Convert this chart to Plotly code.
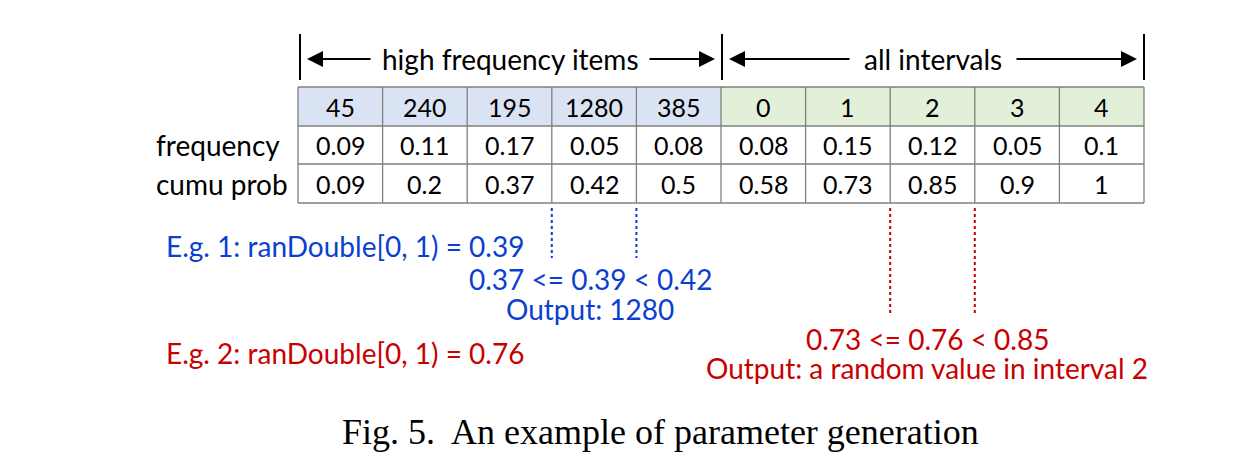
import plotly.graph_objects as go

# ---- data ----
items = ["45", "240", "195", "1280", "385"]
intervals = ["0", "1", "2", "3", "4"]
frequency = ["0.09", "0.11", "0.17", "0.05", "0.08", "0.08", "0.15", "0.12", "0.05", "0.1"]
cumu_prob = ["0.09", "0.2", "0.37", "0.42", "0.5", "0.58", "0.73", "0.85", "0.9", "1"]
row_labels = ["frequency", "cumu prob"]
group_labels = ["high frequency items", "all intervals"]
example1 = ["E.g. 1: ranDouble[0, 1) = 0.39", "0.37 <= 0.39 < 0.42", "Output: 1280"]
example2 = ["E.g. 2: ranDouble[0, 1) = 0.76", "0.73 <= 0.76 < 0.85", "Output: a random value in interval 2"]
caption = "Fig. 5.  An example of parameter generation"

# ---- layout geometry ----
W, H = 1235, 473
OFF = 8  # page body margin compensation
x0, x1 = 298, 1144
ncol = len(items) + len(intervals)
cw = (x1 - x0) / ncol
rows_y = [87, 126, 164, 203]
FONT = "Lato, Carlito, Calibri, sans-serif"
FS_CELL = 25
FS_TXT = 28
BLUE = "#0B3FCF"
RED = "#C80000"
BORDER = "#7F7F7F"

fig = go.Figure()
shapes = []
ann = []

# header fills
for i in range(ncol):
    fill = "#DAE3F3" if i < len(items) else "#E2F0D9"
    shapes.append(dict(type="rect", x0=x0 + i * cw, x1=x0 + (i + 1) * cw, y0=rows_y[0], y1=rows_y[1],
                       fillcolor=fill, line=dict(width=0), layer="below"))
# grid lines
for y in rows_y:
    shapes.append(dict(type="line", x0=x0, x1=x1, y0=y, y1=y, line=dict(color=BORDER, width=1.3)))
for i in range(ncol + 1):
    xx = x0 + i * cw
    shapes.append(dict(type="line", x0=xx, x1=xx, y0=rows_y[0], y1=rows_y[-1], line=dict(color=BORDER, width=1.3)))

headers = items + intervals
for r, row in enumerate([headers, frequency, cumu_prob]):
    yc = (rows_y[r] + rows_y[r + 1]) / 2
    for i, v in enumerate(row):
        ann.append(dict(x=x0 + (i + 0.5) * cw, y=yc, text=v, showarrow=False,
                        font=dict(family=FONT, size=FS_CELL, color="#000"), xanchor="center", yanchor="middle"))
for r, lab in enumerate(row_labels):
    yc = (rows_y[r + 1] + rows_y[r + 2]) / 2
    ann.append(dict(x=154, y=yc, text=lab, showarrow=False, font=dict(family=FONT, size=FS_TXT, color="#000"),
                    xanchor="left", yanchor="middle"))

# brackets
bars = [x0 + 2, x0 + len(items) * cw + 1, x1]
for bx in bars:
    shapes.append(dict(type="line", x0=bx, x1=bx, y0=34, y1=80, line=dict(color="#000", width=2)))
ya = 59
spans = [(bars[0], bars[1], 372, 648), (bars[1], bars[2], 851, 1015)]
for (a, b, t0, t1), lab in zip(spans, group_labels):
    ann.append(dict(x=(t0 + t1) / 2, y=ya, text=lab, showarrow=False,
                    font=dict(family=FONT, size=FS_TXT, color="#000"), xanchor="center", yanchor="middle"))
    ann.append(dict(x=a + 7, y=ya, ax=t0, ay=ya, xref="x", yref="y", axref="x", ayref="y", text="",
                    showarrow=True, arrowhead=2, arrowsize=1.6, arrowwidth=2, arrowcolor="#000"))
    ann.append(dict(x=b - 7, y=ya, ax=t1, ay=ya, xref="x", yref="y", axref="x", ayref="y", text="",
                    showarrow=True, arrowhead=2, arrowsize=1.6, arrowwidth=2, arrowcolor="#000"))

# dotted guide lines
for i in [3, 4]:
    xx = x0 + i * cw
    shapes.append(dict(type="line", x0=xx, x1=xx, y0=208, y1=258, line=dict(color=BLUE, width=2, dash="dot")))
for i in [7, 8]:
    xx = x0 + i * cw
    shapes.append(dict(type="line", x0=xx, x1=xx, y0=208, y1=313, line=dict(color=RED, width=2, dash="dot")))

# examples
ann.append(dict(x=164, y=246, text=example1[0], showarrow=False, font=dict(family=FONT, size=FS_TXT, color=BLUE),
                xanchor="left", yanchor="middle"))
ann.append(dict(x=590, y=279, text=example1[1], showarrow=False, font=dict(family=FONT, size=FS_TXT, color=BLUE),
                xanchor="center", yanchor="middle", borderpad=0))
ann.append(dict(x=590, y=309, text=example1[2], showarrow=False, font=dict(family=FONT, size=FS_TXT, color=BLUE),
                xanchor="center", yanchor="middle", borderpad=0))
ann.append(dict(x=164, y=353, text=example2[0], showarrow=False, font=dict(family=FONT, size=FS_TXT, color=RED),
                xanchor="left", yanchor="middle"))
ann.append(dict(x=927, y=339, text=example2[1], showarrow=False, font=dict(family=FONT, size=FS_TXT, color=RED),
                xanchor="center", yanchor="middle", borderpad=0))
ann.append(dict(x=927, y=368, text=example2[2], showarrow=False, font=dict(family=FONT, size=FS_TXT, color=RED),
                xanchor="center", yanchor="middle", borderpad=0))

# caption
ann.append(dict(x=660, y=432, text=caption, showarrow=False,
                font=dict(family="Liberation Serif, Times New Roman, serif", size=36, color="#000"),
                xanchor="center", yanchor="middle"))

for a in ann:
    a.setdefault("xref", "x")
    a.setdefault("yref", "y")

fig.update_layout(width=W, height=H, margin=dict(l=0, r=0, t=0, b=0), plot_bgcolor="white", paper_bgcolor="white",
                  xaxis=dict(range=[OFF, W + OFF], visible=False, fixedrange=True),
                  yaxis=dict(range=[H + OFF, OFF], visible=False, fixedrange=True),
                  shapes=shapes, annotations=ann, showlegend=False)
fig.write_html("out.html")
